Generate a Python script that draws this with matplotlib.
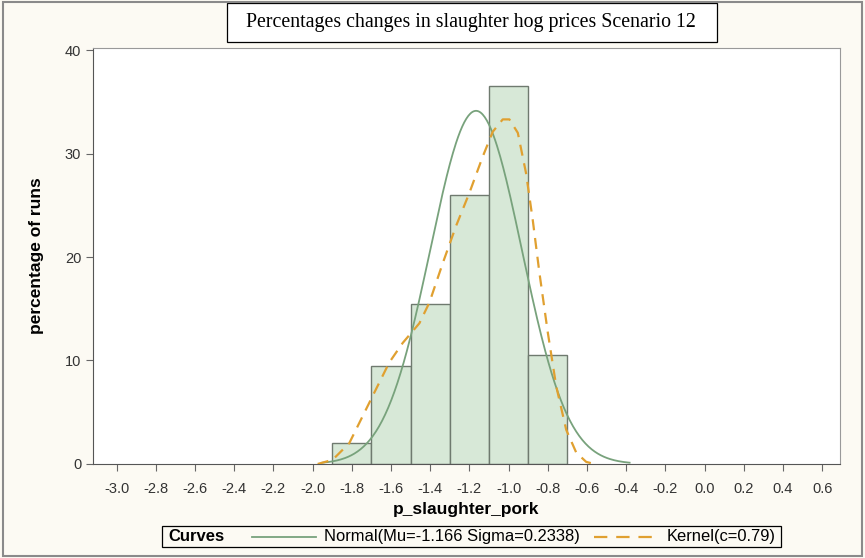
import numpy as np
import matplotlib
matplotlib.use("Agg")
import matplotlib.pyplot as plt
from matplotlib.patches import Rectangle
from matplotlib.lines import Line2D

# histogram: bin edges and percentage of runs per bin
bin_edges = [-1.9, -1.7, -1.5, -1.3, -1.1, -0.9, -0.7]
bin_pct = [2.0, 9.5, 15.5, 26.0, 36.5, 10.5]

# fitted normal
mu = -1.166
sigma = 0.2338

# kernel density curve (c=0.79), percent scale
kern_x = [-1.974, -1.898, -1.813, -1.745, -1.677, -1.609, -1.54, -1.455, -1.404,
          -1.336, -1.268, -1.2, -1.132, -1.081, -1.03, -0.996, -0.953, -0.911,
          -0.877, -0.843, -0.8, -0.757, -0.706, -0.655, -0.604, -0.562]
kern_y = [0.0, 0.4, 2.0, 4.6, 7.2, 9.8, 11.7, 13.6, 15.6,
          19.4, 23.0, 26.2, 29.7, 32.1, 33.3, 33.3, 32.0, 28.1,
          23.6, 18.5, 12.7, 7.5, 3.3, 1.1, 0.2, 0.0]

xticks = np.round(np.arange(-3.0, 0.61, 0.2), 1)
yticks = [0, 10, 20, 30, 40]

sans = ['Liberation Sans', 'DejaVu Sans']
bg = '#fcfaf3'
green = '#78a27c'
orange = '#e0a030'
kdash = (0, (5, 3.5))

fig = plt.figure(figsize=(8.65, 5.58), dpi=100, facecolor=bg)
ax = fig.add_axes([0.1075, 0.1685, 0.8635, 0.7455])
ax.set_facecolor('white')

widths = np.diff(bin_edges)
ax.bar(bin_edges[:-1], bin_pct, width=widths, align='edge',
       color='#d7e8d7', edgecolor='#6f7a6f', linewidth=1.0, zorder=2)

# normal curve scaled to percent per 0.2 bin
bw = bin_edges[1] - bin_edges[0]
nx = np.linspace(mu - 3.35 * sigma, mu + 3.35 * sigma, 300)
ny = 100 * bw / (sigma * np.sqrt(2 * np.pi)) * np.exp(-0.5 * ((nx - mu) / sigma) ** 2)
ax.plot(nx, ny, color=green, lw=1.3, zorder=3)

ax.plot(kern_x, kern_y, color=orange, lw=1.6, ls=kdash, zorder=4)

ax.set_xlim(-3.12, 0.69)
ax.set_ylim(0, 40.2)
ax.set_xticks(xticks)
ax.set_xticklabels([f'{v:.1f}' for v in xticks], family=sans, fontsize=10.5, color='#333333')
ax.set_yticks(yticks)
ax.set_yticklabels([str(v) for v in yticks], family=sans, fontsize=10.5, color='#333333')
ax.tick_params(axis='both', length=5, color='#666666', width=0.8)
ax.tick_params(axis='x', pad=8)
for s in ax.spines.values():
    s.set_color('#999999')
    s.set_linewidth(0.8)
ax.spines['left'].set_color('#555555')
ax.spines['bottom'].set_color('#555555')

ax.set_xlabel('p_slaughter_pork', family=sans, fontsize=12.5, fontweight='bold', labelpad=4)
ax.set_ylabel('percentage of runs', family=sans, fontsize=12.5, fontweight='bold', labelpad=15)

# title box
fig.patches.append(Rectangle((0.2625, 0.9247), 0.566, 0.0699, transform=fig.transFigure,
                             fc='white', ec='black', lw=0.9))
fig.text(0.5445, 0.9595, 'Percentages changes in slaughter hog prices Scenario 12',
         family='Liberation Serif', fontsize=14.3, ha='center', va='center')

# legend strip below the plot
ly = 0.0385
fig.patches.append(Rectangle((0.1873, 0.0197), 0.7156, 0.0376, transform=fig.transFigure,
                             fc=bg, ec='black', lw=0.9))
fig.text(0.1945, ly, 'Curves', family=sans, fontsize=12, fontweight='bold', va='center')
fig.lines.append(Line2D([0.2913, 0.3653], [ly, ly], transform=fig.transFigure, color=green, lw=1.3))
fig.text(0.3745, ly, 'Normal(Mu=-1.166 Sigma=0.2338)', family=sans, fontsize=11.9, va='center')
fig.lines.append(Line2D([0.6867, 0.7538], [ly, ly], transform=fig.transFigure, color=orange,
                        lw=1.6, ls=(0, (6, 4))))
fig.text(0.771, ly, 'Kernel(c=0.79)', family=sans, fontsize=11.9, va='center')

# outer frame
fig.patches.append(Rectangle((0.004, 0.003), 0.992, 0.993, transform=fig.transFigure,
                             fill=False, ec='#8a8a8a', lw=1.5))

fig.savefig('out.png', dpi=100, facecolor=bg)
